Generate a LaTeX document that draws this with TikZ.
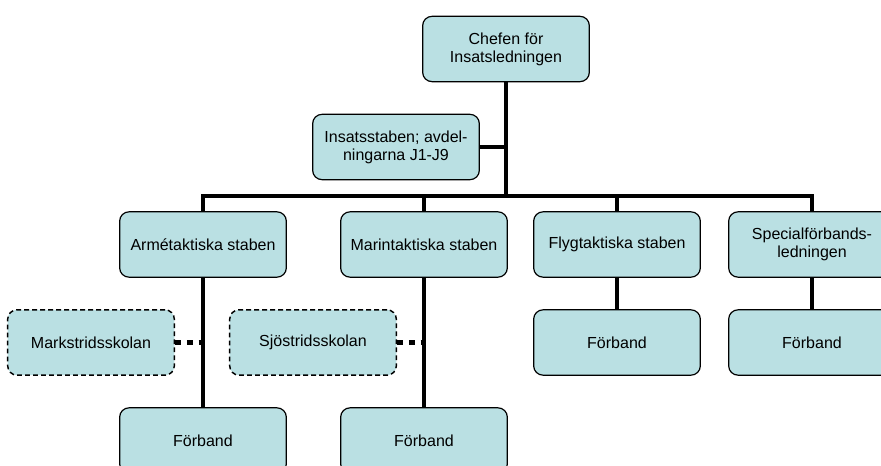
\documentclass[tikz,border=0pt]{standalone}
\usepackage{fontspec}
\setmainfont{Liberation Sans}
\usetikzlibrary{positioning}

\definecolor{boxfill}{RGB}{186,224,227}

\tikzset{
  unit/.style={draw=black, line width=0.9pt, fill=boxfill, rounded corners=7pt,
    minimum width=125pt, minimum height=49pt, align=center, inner sep=2pt,
    font=\fontsize{12}{13.5}\selectfont},
  school/.style={unit, line width=1.1pt, dash pattern=on 3.6pt off 2.4pt},
  conn/.style={line width=3.6pt, line join=miter},
  dotconn/.style={line width=3.8pt, dash pattern=on 4.4pt off 4.4pt}
}

\begin{document}
\begin{tikzpicture}[x=0.75pt,y=-0.75pt]
    % frame of the picture, in pixels from top left
    \useasboundingbox (0,0) rectangle (881,466);
    \clip (0,0) rectangle (881,466);

    % top of the chart
    \node[unit] (chef) at (506,49) {Chefen för\\Insatsledningen};
    \node[unit] (insats) at (396,147) {Insatsstaben; avdel-\\ningarna J1-J9};
    \coordinate (bus) at (506,196);

    % staffs
    \node[unit] (arme) at (203,244.5) {Armétaktiska staben};
    \node[unit] (marin) at (424,244.5) {Marintaktiska staben};
    \node[unit] (flyg) at (617,244.5) {Flygtaktiska staben};
    \node[unit] (spec) at (812,244.5) {Specialförbands-\\ledningen};

    % schools and units
    \node[school] (mark) at (91,342.5) {Markstridsskolan};
    \node[school] (sjo) at (313,342.5) {Sjöstridsskolan};
    \node[unit] (flygfb) at (617,342.5) {Förband};
    \node[unit] (specfb) at (812,342.5) {Förband};
    \node[unit] (armefb) at (203,440.5) {Förband};
    \node[unit] (marinfb) at (424,440.5) {Förband};

    % connectors
    \draw[conn] (chef.south) -- (bus);
    \draw[conn] (insats.east) -- (insats.east -| chef.south);
    \draw[conn] (arme.north) |- (bus) -| (spec.north);
    \draw[conn] (marin.north) -- (marin.north |- bus);
    \draw[conn] (flyg.north) -- (flyg.north |- bus);

    \draw[conn] (arme.south) -- (armefb.north);
    \draw[conn] (marin.south) -- (marinfb.north);
    \draw[conn] (flyg.south) -- (flygfb.north);
    \draw[conn] (spec.south) -- (specfb.north);

    \draw[dotconn] (mark.east) -- (mark.east -| arme.south);
    \draw[dotconn] (sjo.east) -- (sjo.east -| marin.south);
\end{tikzpicture}
\end{document}
